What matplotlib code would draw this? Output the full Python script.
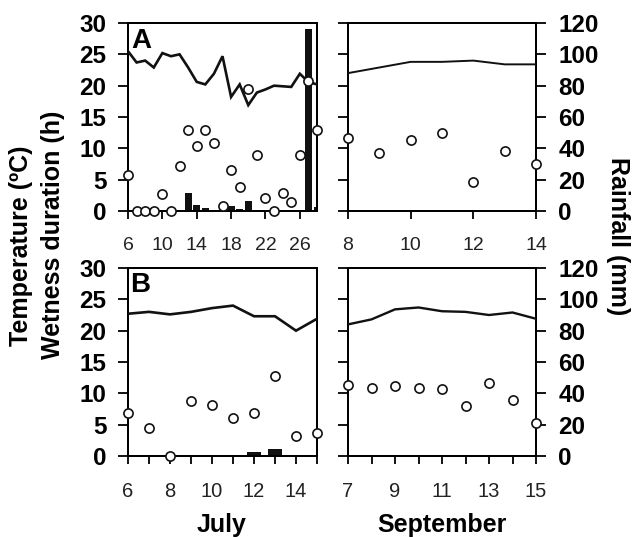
import matplotlib
matplotlib.use("Agg")
import matplotlib.pyplot as plt
import numpy as np

plt.rcParams['font.family'] = ['Liberation Sans', 'DejaVu Sans']

# ---------------- data ----------------
# Panel A, July
julA_days = list(range(6, 29))
julA_temp = [25.5, 23.7, 24.0, 22.9, 25.2, 24.7, 25.0, 22.9, 20.6, 20.2, 21.9, 24.7,
             18.2, 20.2, 16.9, 18.9, 19.4, 20.0, 19.9, 19.8, 21.9, 20.6, 20.2]
julA_wet = [5.7, 0, 0, 0, 2.75, 0, 7.2, 13.0, 10.3, 13.0, 10.9, 0.75,
            6.5, 3.9, 19.4, 9.0, 2.1, 0, 2.8, 1.4, 9.0, 20.7, 13.0]
julA_rain_days = [13, 14, 15, 18, 19, 20, 27, 28]
julA_rain = [11.7, 3.6, 2.1, 3.0, 1.3, 6.4, 116.0, 2.5]
julA_ticks = [6, 10, 14, 18, 22, 26]

# Panel A, September
sepA_days = list(range(8, 15))
sepA_temp = [22.0, 22.9, 23.8, 23.8, 24.0, 23.4, 23.4]
sepA_wet = [11.7, 9.3, 11.3, 12.4, 4.7, 9.6, 7.5]
sepA_ticks = [8, 10, 12, 14]

# Panel B, July
julB_days = list(range(6, 16))
julB_temp = [22.7, 23.0, 22.6, 23.0, 23.6, 24.0, 22.3, 22.3, 20.0, 21.9]
julB_wet = [6.8, 4.4, 0.0, 8.7, 8.1, 6.1, 6.9, 12.8, 3.2, 3.7]
julB_rain_days = [12, 13]
julB_rain = [2.5, 4.2]
julB_labels = [6, 8, 10, 12, 14]

# Panel B, September
sepB_days = list(range(7, 16))
sepB_temp = [21.0, 21.8, 23.4, 23.7, 23.1, 23.0, 22.5, 22.9, 21.9]
sepB_wet = [11.3, 10.9, 11.2, 10.9, 10.7, 8.0, 11.6, 8.9, 5.2]
sepB_labels = [7, 9, 11, 13, 15]

left_yticks = [0, 5, 10, 15, 20, 25, 30]
right_yticks = [0, 20, 40, 60, 80, 100, 120]

# ---------------- figure ----------------
W, H = 634, 537
fig = plt.figure(figsize=(W / 100, H / 100), dpi=100)

def px_axes(x0, x1, y0, y1):
    return fig.add_axes([x0 / W, 1 - y1 / H, (x1 - x0) / W, (y1 - y0) / H])

SPW = 1.4
YT_FS = 17.5
XT_FS_A = 14
XT_FS_B = 14.5

def style(ax, xlim, xfs):
    ax.set_xlim(*xlim)
    ax.set_ylim(0, 30)
    for s in ax.spines.values():
        s.set_linewidth(SPW)
    ax.tick_params(axis='x', direction='out', length=5.5, width=1.3,
                   labelsize=xfs, pad=13, labelcolor='#222222')
    ax.tick_params(axis='y', direction='out', length=7, width=1.3, pad=8.5,
                   labelsize=YT_FS)
    ax.set_yticks(left_yticks)
    for t in ax.get_yticklabels():
        t.set_fontweight('bold')

def draw(ax, days, temp, wet, lw):
    ax.plot(days, temp, color='#111111', lw=lw, zorder=3, solid_joinstyle='miter')
    ax.plot(days, wet, 'o', ms=6.6, mfc='white', mec='#111111', mew=1.2,
            zorder=5, clip_on=False, linestyle='none')

# ---- A left
axAL = px_axes(128, 317, 23, 211)
style(axAL, (6, 28), XT_FS_A)
axAL.set_xticks(julA_ticks)
axAL2 = axAL.twinx()
axAL2.set_ylim(0, 120)
axAL2.bar(julA_rain_days, julA_rain, width=0.8, color='#111111', zorder=2)
axAL2.tick_params(right=False, labelright=False)
axAL.set_zorder(axAL2.get_zorder() + 1)
axAL.patch.set_visible(False)
for s in axAL2.spines.values():
    s.set_linewidth(SPW)
draw(axAL, julA_days, julA_temp, julA_wet, 1.9)
axAL.text(0.015, 0.865, 'A', transform=axAL.transAxes, fontsize=20,
          fontweight='bold', ha='left', va='baseline')

# ---- A right
axAR = px_axes(348, 536, 23, 211)
style(axAR, (8, 14), XT_FS_A)
axAR.set_xticks(sepA_ticks)
axAR.tick_params(axis='y', left=False, labelleft=False)
axAR2 = axAR.twinx()
axAR2.set_ylim(0, 120)
axAR2.set_yticks(right_yticks)
axAR2.tick_params(axis='y', direction='out', length=7, width=1.3, pad=9,
                  labelsize=YT_FS)
for t in axAR2.get_yticklabels():
    t.set_fontweight('bold')
axAR.set_zorder(axAR2.get_zorder() + 1)
axAR.patch.set_visible(False)
for s in axAR2.spines.values():
    s.set_linewidth(SPW)
draw(axAR, sepA_days, sepA_temp, sepA_wet, 1.4)

# ---- B left
axBL = px_axes(128, 317, 268, 456)
style(axBL, (6, 15), XT_FS_B)
axBL.set_xticks(julB_days)
axBL.set_xticklabels([str(d) if d in julB_labels else '' for d in julB_days])
axBL2 = axBL.twinx()
axBL2.set_ylim(0, 120)
axBL2.bar(julB_rain_days, julB_rain, width=0.68, color='#111111', zorder=2)
axBL2.tick_params(right=False, labelright=False)
axBL.set_zorder(axBL2.get_zorder() + 1)
axBL.patch.set_visible(False)
for s in axBL2.spines.values():
    s.set_linewidth(SPW)
draw(axBL, julB_days, julB_temp, julB_wet, 1.9)
axBL.text(0.013, 0.871, 'B', transform=axBL.transAxes, fontsize=20,
          fontweight='bold', ha='left', va='baseline')

# ---- B right
axBR = px_axes(348, 536, 268, 456)
style(axBR, (7, 15), XT_FS_B)
axBR.set_xticks(sepB_days)
axBR.set_xticklabels([str(d) if d in sepB_labels else '' for d in sepB_days])
axBR.tick_params(axis='y', left=False, labelleft=False)
axBR2 = axBR.twinx()
axBR2.set_ylim(0, 120)
axBR2.set_yticks(right_yticks)
axBR2.tick_params(axis='y', direction='out', length=7, width=1.3, pad=9,
                  labelsize=YT_FS)
for t in axBR2.get_yticklabels():
    t.set_fontweight('bold')
axBR.set_zorder(axBR2.get_zorder() + 1)
axBR.patch.set_visible(False)
for s in axBR2.spines.values():
    s.set_linewidth(SPW)
draw(axBR, sepB_days, sepB_temp, sepB_wet, 1.7)

# ---- axis titles
fig.text(28 / W, 1 - 246 / H, 'Temperature (ºC)', rotation=90,
         rotation_mode='anchor', ha='center', va='baseline',
         fontsize=18, fontweight='bold')
fig.text(60 / W, 1 - 235 / H, 'Wetness duration (h)', rotation=90,
         rotation_mode='anchor', ha='center', va='baseline',
         fontsize=18, fontweight='bold')
fig.text(611 / W, 1 - 236 / H, 'Rainfall (mm)', rotation=270,
         rotation_mode='anchor', ha='center', va='baseline',
         fontsize=18, fontweight='bold')
fig.text(222 / W, 1 - 532 / H, 'July', ha='center', va='baseline',
         fontsize=18, fontweight='bold')
fig.text(442 / W, 1 - 532 / H, 'September', ha='center', va='baseline',
         fontsize=18, fontweight='bold')

fig.savefig('out.png', dpi=100)
